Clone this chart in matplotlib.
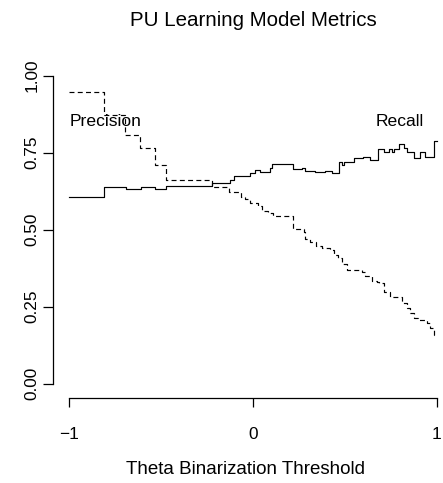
import matplotlib
matplotlib.use("Agg")
import matplotlib.pyplot as plt

plt.rcParams['font.family'] = ['Liberation Sans', 'DejaVu Sans']

# Step starts (threshold, value)
prec_x = [-1.0, -0.813, -0.695, -0.613, -0.536, -0.472, -0.223, -0.129, -0.065, -0.042,
          -0.015, 0.025, 0.049, 0.083, 0.110, 0.218, 0.275, 0.285, 0.312, 0.343,
          0.376, 0.417, 0.439, 0.464, 0.484, 0.512, 0.593, 0.611, 0.648, 0.675,
          0.684, 0.711, 0.747, 0.811, 0.838, 0.856, 0.874, 0.900, 0.947, 0.965,
          0.983, 1.0]
prec_y = [0.946, 0.873, 0.807, 0.764, 0.710, 0.662, 0.637, 0.621, 0.605, 0.600,
          0.585, 0.577, 0.560, 0.553, 0.543, 0.502, 0.491, 0.469, 0.459, 0.448,
          0.441, 0.434, 0.417, 0.407, 0.387, 0.369, 0.363, 0.349, 0.334, 0.329,
          0.325, 0.298, 0.280, 0.260, 0.244, 0.230, 0.212, 0.206, 0.198, 0.179,
          0.158, 0.158]

rec_x = [-1.0, -0.813, -0.691, -0.607, -0.531, -0.472, -0.223, -0.127, -0.105, -0.015,
         0.012, 0.040, 0.094, 0.103, 0.218, 0.267, 0.285, 0.312, 0.339, 0.393,
         0.431, 0.466, 0.484, 0.493, 0.512, 0.549, 0.600, 0.639, 0.683, 0.711,
         0.738, 0.757, 0.766, 0.793, 0.820, 0.838, 0.874, 0.911, 0.938, 0.983, 1.0]
rec_y = [0.607, 0.640, 0.632, 0.639, 0.632, 0.641, 0.652, 0.660, 0.674, 0.683,
         0.694, 0.688, 0.699, 0.713, 0.696, 0.699, 0.691, 0.690, 0.686, 0.691,
         0.685, 0.720, 0.710, 0.720, 0.719, 0.731, 0.735, 0.726, 0.761, 0.753,
         0.761, 0.751, 0.761, 0.777, 0.764, 0.753, 0.734, 0.753, 0.737, 0.788, 0.788]

x_ticks = [-1, 0, 1]
x_ticklabels = ['\u22121', '0', '1']
y_ticks = [0.0, 0.25, 0.5, 0.75, 1.0]
y_ticklabels = ['0.00', '0.25', '0.50', '0.75', '1.00']

W, H = 443, 483
fig = plt.figure(figsize=(W / 100, H / 100), dpi=100)

# pixel geometry
px_x0, px_x1 = 69.3, 436.7   # x=-1, x=1
px_y0, px_y1 = 383.5, 75.7   # y=0, y=1
left_px, right_px = 53.3, 451.0
top_px, bottom_px = 63.4, 398.0

sx = (px_x1 - px_x0) / 2.0
sy = (px_y0 - px_y1) / 1.0
xlim = (-1 + (left_px - px_x0) / sx, -1 + (right_px - px_x0) / sx)
ylim = ((px_y0 - bottom_px) / sy, (px_y0 - top_px) / sy)

ax = fig.add_axes([left_px / W, 1 - bottom_px / H, (right_px - left_px) / W, (bottom_px - top_px) / H])
ax.set_xlim(*xlim)
ax.set_ylim(*ylim)

ax.step(rec_x, rec_y, where='post', color='black', lw=0.85, ls='-')
ax.step(prec_x, prec_y, where='post', color='black', lw=0.85, ls=(0, (4.2, 2.8)))

ax.text(-1.0, 0.85, 'Precision', ha='left', va='center', fontsize=12.6)
ax.text(0.80, 0.85, 'Recall', ha='center', va='center', fontsize=12.6)

for s in ['top', 'right']:
    ax.spines[s].set_visible(False)
ax.spines['left'].set_bounds(0, 1)
ax.spines['bottom'].set_bounds(-1, 1)
for s in ['left', 'bottom']:
    ax.spines[s].set_linewidth(0.9)

ax.set_xticks(x_ticks)
ax.set_xticklabels(x_ticklabels, fontsize=12.4)
ax.set_yticks(y_ticks)
ax.set_yticklabels(y_ticklabels, fontsize=12.4, rotation=90, va='center', ha='right')
ax.tick_params(axis='x', length=6.8, width=0.9, pad=14)
ax.tick_params(axis='y', length=7.2, width=0.9, pad=3)

fig.text(253.3 / W, 1 - 21 / H, 'PU Learning Model Metrics', ha='center', va='center', fontsize=14.8)
fig.text(245.5 / W, 1 - 470 / H, 'Theta Binarization Threshold', ha='center', va='center', fontsize=13.5)

fig.savefig('out.png', dpi=100)
